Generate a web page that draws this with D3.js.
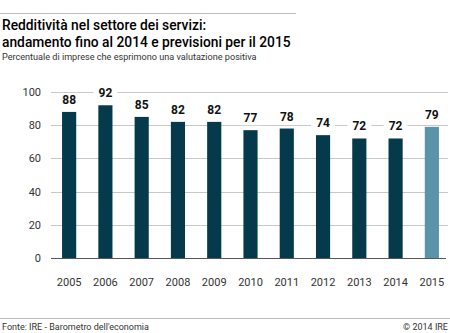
<!DOCTYPE html>
<html>
<head>
<meta charset="utf-8">
<script src="https://cdn.jsdelivr.net/npm/d3@7"></script>
<style>
  body { margin: 0; background: #fff; }
  svg { display: block; font-family: Roboto, "DejaVu Sans", sans-serif; }
</style>
</head>
<body>
<div id="chart"></div>
<script>
const years = ['2005', '2006', '2007', '2008', '2009', '2010', '2011', '2012', '2013', '2014', '2015'];
const values = [88, 92, 85, 82, 82, 77, 78, 74, 72, 72, 79];
const forecastYears = ['2015'];
const yTicks = [0, 20, 40, 60, 80, 100];

const width = 450, height = 333;
const margin = { top: 92, right: 0, bottom: 75, left: 51 };

const svg = d3.select('#chart')
    .append('svg')
    .attr('width', width)
    .attr('height', height);

// Header
svg.append('line')
    .attr('x1', 0).attr('x2', 296)
    .attr('y1', 13.5).attr('y2', 13.5)
    .attr('stroke', '#bbb').attr('stroke-width', 1);

svg.append('text')
    .attr('x', 2).attr('y', 30)
    .style('font-size', '13.8px')
    .style('font-weight', '500')
    .attr('fill', '#000')
    .text('Redditività nel settore dei servizi:');

svg.append('text')
    .attr('x', 2).attr('y', 47)
    .style('font-size', '13.8px')
    .style('font-weight', '500')
    .attr('fill', '#000')
    .text('andamento fino al 2014 e previsioni per il 2015');

svg.append('text')
    .attr('x', 2).attr('y', 60)
    .style('font-size', '9.1px')
    .attr('fill', '#333')
    .text('Percentuale di imprese che esprimono una valutazione positiva');

// Scales
const x = d3.scaleBand()
    .domain(years)
    .range([margin.left, width - margin.right])
    .paddingInner(0.61)
    .paddingOuter(0.305);

const y = d3.scaleLinear()
    .domain([0, 100])
    .range([height - margin.bottom, margin.top]);

// Grid lines
svg.append('g')
    .selectAll('line')
    .data(yTicks.filter(d => d > 0))
    .join('line')
    .attr('x1', margin.left).attr('x2', width - 2)
    .attr('y1', d => Math.round(y(d)) + 0.5)
    .attr('y2', d => Math.round(y(d)) + 0.5)
    .attr('stroke', '#c8c8c8')
    .attr('stroke-width', 1);

// Y axis labels
const yAxis = svg.append('g')
    .attr('transform', `translate(${margin.left},0)`)
    .call(d3.axisLeft(y).tickValues(yTicks).tickSize(0).tickPadding(10));
yAxis.select('.domain').remove();
yAxis.selectAll('text')
    .style('font-family', 'Roboto, sans-serif')
    .style('font-size', '11px')
    .attr('fill', '#333');

// Bars
svg.append('g')
    .selectAll('rect')
    .data(years)
    .join('rect')
    .attr('x', d => x(d))
    .attr('y', (d, i) => y(values[i]))
    .attr('width', x.bandwidth())
    .attr('height', (d, i) => y(0) - y(values[i]))
    .attr('fill', d => forecastYears.includes(d) ? '#5b93a8' : '#053a4d');

// Value labels with white halo to break grid lines
const labels = svg.append('g')
    .selectAll('g')
    .data(years)
    .join('g')
    .attr('transform', (d, i) => `translate(${x(d) + x.bandwidth() / 2},${y(values[i]) - 8})`);

labels.append('rect')
    .attr('x', -12).attr('y', -11)
    .attr('width', 24).attr('height', 14)
    .attr('fill', '#fff');

labels.append('text')
    .attr('text-anchor', 'middle')
    .style('font-size', '12px')
    .style('font-weight', 'bold')
    .attr('fill', '#111')
    .text((d, i) => values[i]);

// Baseline
svg.append('line')
    .attr('x1', margin.left).attr('x2', width - 4)
    .attr('y1', Math.round(y(0)) + 0.5).attr('y2', Math.round(y(0)) + 0.5)
    .attr('stroke', '#555')
    .attr('stroke-width', 1);

// X axis labels
const xAxis = svg.append('g')
    .attr('transform', `translate(0,${y(0)})`)
    .call(d3.axisBottom(x).tickSize(0).tickPadding(20));
xAxis.select('.domain').remove();
xAxis.selectAll('text')
    .style('font-family', 'Roboto, sans-serif')
    .style('font-size', '11px')
    .attr('fill', '#333');

// Footer
svg.append('line')
    .attr('x1', 0).attr('x2', width)
    .attr('y1', 318.5).attr('y2', 318.5)
    .attr('stroke', '#bbb').attr('stroke-width', 1);

svg.append('text')
    .attr('x', 2).attr('y', 330)
    .style('font-size', '9px')
    .attr('fill', '#333')
    .text("Fonte: IRE - Barometro dell'economia");

svg.append('text')
    .attr('x', width - 2).attr('y', 330)
    .attr('text-anchor', 'end')
    .style('font-size', '9px')
    .attr('fill', '#333')
    .text('© 2014 IRE');
</script>
</body>
</html>
